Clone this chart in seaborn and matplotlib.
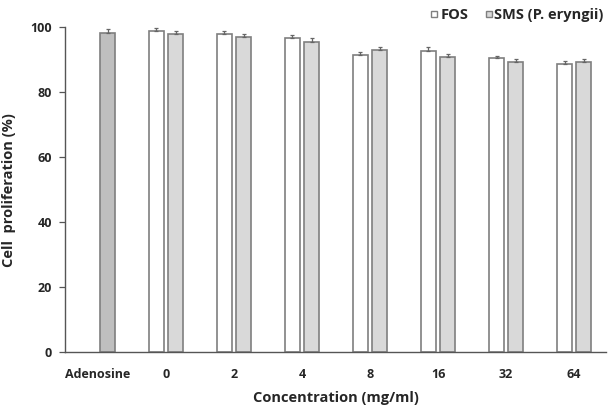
import numpy as np
import pandas as pd
import matplotlib
matplotlib.use("Agg")
import matplotlib.pyplot as plt
from matplotlib.container import BarContainer
from matplotlib.lines import Line2D
import seaborn as sns

# Data
categories = ["Adenosine", "0", "2", "4", "8", "16", "32", "64"]
concentrations = ["0", "2", "4", "8", "16", "32", "64"]
adenosine_mean = [98.4]
adenosine_err = [1.1]
fos_mean = [98.9, 97.9, 96.8, 91.5, 92.8, 90.5, 88.6]
fos_err = [1.0, 1.0, 0.9, 1.0, 1.1, 0.8, 0.9]
sms_mean = [97.9, 96.9, 95.6, 93.0, 90.8, 89.4, 89.3]
sms_err = [1.1, 1.0, 1.0, 0.8, 1.0, 0.9, 1.0]
series = ["FOS", "SMS (P. eryngii)"]

sns.set_style("white")
plt.rcParams["font.family"] = ["Open Sans", "DejaVu Sans"]

# adenosine sits in the second series slot, as in the original chart
df = pd.DataFrame({
    "conc": concentrations + ["Adenosine"] + concentrations,
    "value": fos_mean + adenosine_mean + sms_mean,
    "err": fos_err + adenosine_err + sms_err,
    "series": [series[0]] * 7 + [series[1]] * 8,
})

fig = plt.figure(figsize=(6.11, 4.05), dpi=100)
ax = fig.add_axes([0.1064, 0.130, 0.8854, 0.8025])

edge = "#7f7f7f"
sns.barplot(data=df, x="conc", y="value", hue="series", order=categories,
            hue_order=series, palette=["white", "#d9d9d9"], width=0.56, gap=0.18,
            edgecolor=edge, linewidth=1.2, errorbar=None, legend=False, ax=ax)

# darker fill for the adenosine control, error bars (upper only) on each bar
bar_conts = [c for c in ax.containers if isinstance(c, BarContainer)]
for cont in bar_conts:
    for p in cont.patches:
        xc = p.get_x() + p.get_width() / 2
        cat = categories[int(round(xc))]
        ser = series[0] if xc < round(xc) else series[1]
        row = df[(df["conc"] == cat) & (df["series"] == ser)].iloc[0]
        if cat == "Adenosine":
            p.set_facecolor("#bfbfbf")
        ax.errorbar([xc], [p.get_height()], yerr=[[0], [row["err"]]], fmt="none",
                    ecolor="#666666", elinewidth=0.9, capsize=1.6, capthick=0.9)

ax.set_ylim(0, 100)
ax.set_xlim(-0.485, 7.47)
ax.set_yticks(range(0, 101, 20))
ax.tick_params(axis="y", left=True, length=4.3, width=0.9, color="#555555",
               labelsize=9, pad=5)
ax.tick_params(axis="x", bottom=False, labelsize=9, pad=8)
for lab in ax.get_xticklabels() + ax.get_yticklabels():
    lab.set_fontweight("bold")
for s in ["top", "right"]:
    ax.spines[s].set_visible(False)
for s in ["left", "bottom"]:
    ax.spines[s].set_color("#555555")
    ax.spines[s].set_linewidth(1.0)

ax.set_xlabel("Concentration (mg/ml)", fontsize=10.5, fontweight="bold", labelpad=7)
ax.set_ylabel("Cell  proliferation (%)", fontsize=10.5, fontweight="bold")
ax.yaxis.set_label_coords(-0.091, 0.5)

handles = [Line2D([], [], marker="s", linestyle="none", markersize=5,
                  markerfacecolor=c, markeredgecolor=edge, markeredgewidth=1.0)
           for c in ["white", "#d9d9d9"]]
leg = ax.legend(handles, series, loc="upper right", bbox_to_anchor=(1.012, 1.085),
                ncol=2, frameon=False, handletextpad=0.0, columnspacing=1.0,
                handlelength=0.8, borderaxespad=0.2,
                prop={"size": 10.5, "weight": "bold"})

fig.savefig("out.png", dpi=100)
